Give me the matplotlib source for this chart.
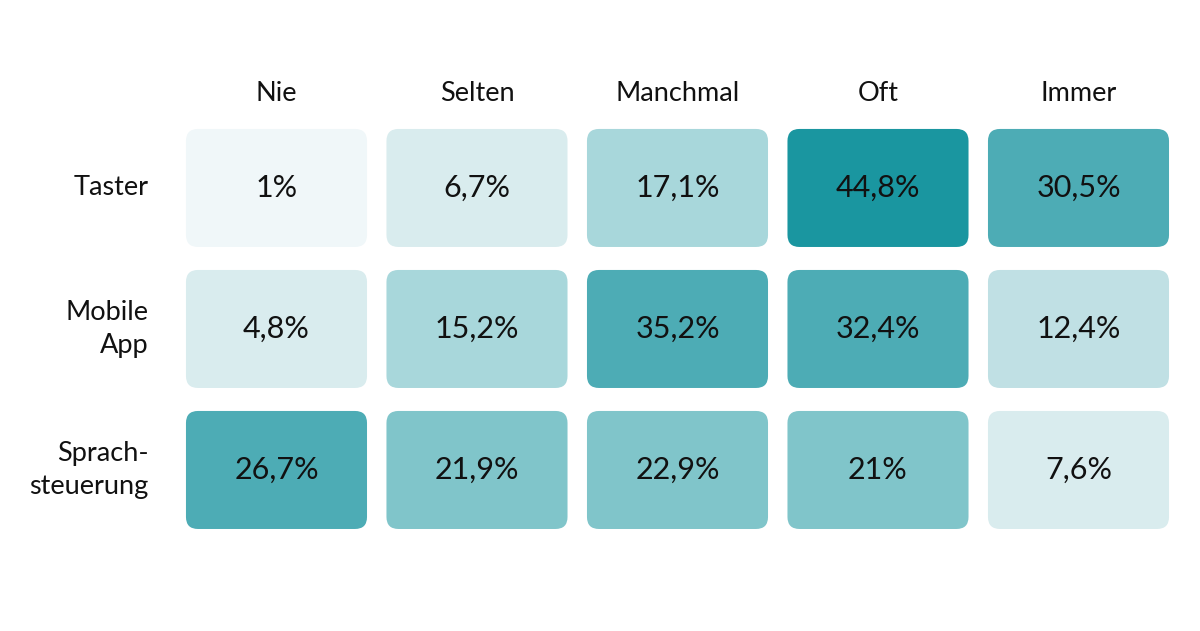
import matplotlib
matplotlib.use("Agg")
import matplotlib.pyplot as plt
from matplotlib.patches import FancyBboxPatch
from matplotlib.colors import ListedColormap, BoundaryNorm
import numpy as np

# data
columns = ["Nie", "Selten", "Manchmal", "Oft", "Immer"]
rows = ["Taster", "Mobile\nApp", "Sprach-\nsteuerung"]
taster = [1.0, 6.7, 17.1, 44.8, 30.5]
mobile_app = [4.8, 15.2, 35.2, 32.4, 12.4]
sprachsteuerung = [26.7, 21.9, 22.9, 21.0, 7.6]

values = np.array([taster, mobile_app, sprachsteuerung])

# binned colour scale
bounds = [0, 2, 10, 14, 20, 25, 40, 100]
cmap = ListedColormap(["#F0F7F9", "#D9ECEE", "#C0E0E4", "#A8D7DB",
                       "#80C5CA", "#4DACB5", "#1A96A0"])
norm = BoundaryNorm(bounds, cmap.N)

plt.rcParams['font.family'] = ['Lato', 'DejaVu Sans']

fig = plt.figure(figsize=(12, 6.31), dpi=100)
ax = fig.add_axes([0, 0, 1, 1])
ax.set_xlim(-1.379, 4.606)
ax.set_ylim(3.142, -1.333)
ax.axis('off')

w, h = 0.903, 0.837
txt = '#111111'
for i in range(len(rows)):
    for j in range(len(columns)):
        v = values[i, j]
        box = FancyBboxPatch((j - w / 2, i - h / 2), w, h,
                             boxstyle="round,pad=0,rounding_size=0.06",
                             mutation_aspect=200.5 / 141,
                             fc=cmap(norm(v)), ec='none')
        ax.add_patch(box)
        label = ('%g' % v).replace('.', ',') + '%'
        ax.text(j, i, label, ha='center', va='center', fontsize=22,
                color=txt)

for j, c in enumerate(columns):
    ax.text(j, -0.67, c, ha='center', va='center', fontsize=19.5,
            color=txt)

for i, r in enumerate(rows):
    ax.text(-0.64, i, r, ha='right', va='center', fontsize=19.5,
            color=txt, linespacing=1.42)

fig.savefig('out.png', dpi=100)
